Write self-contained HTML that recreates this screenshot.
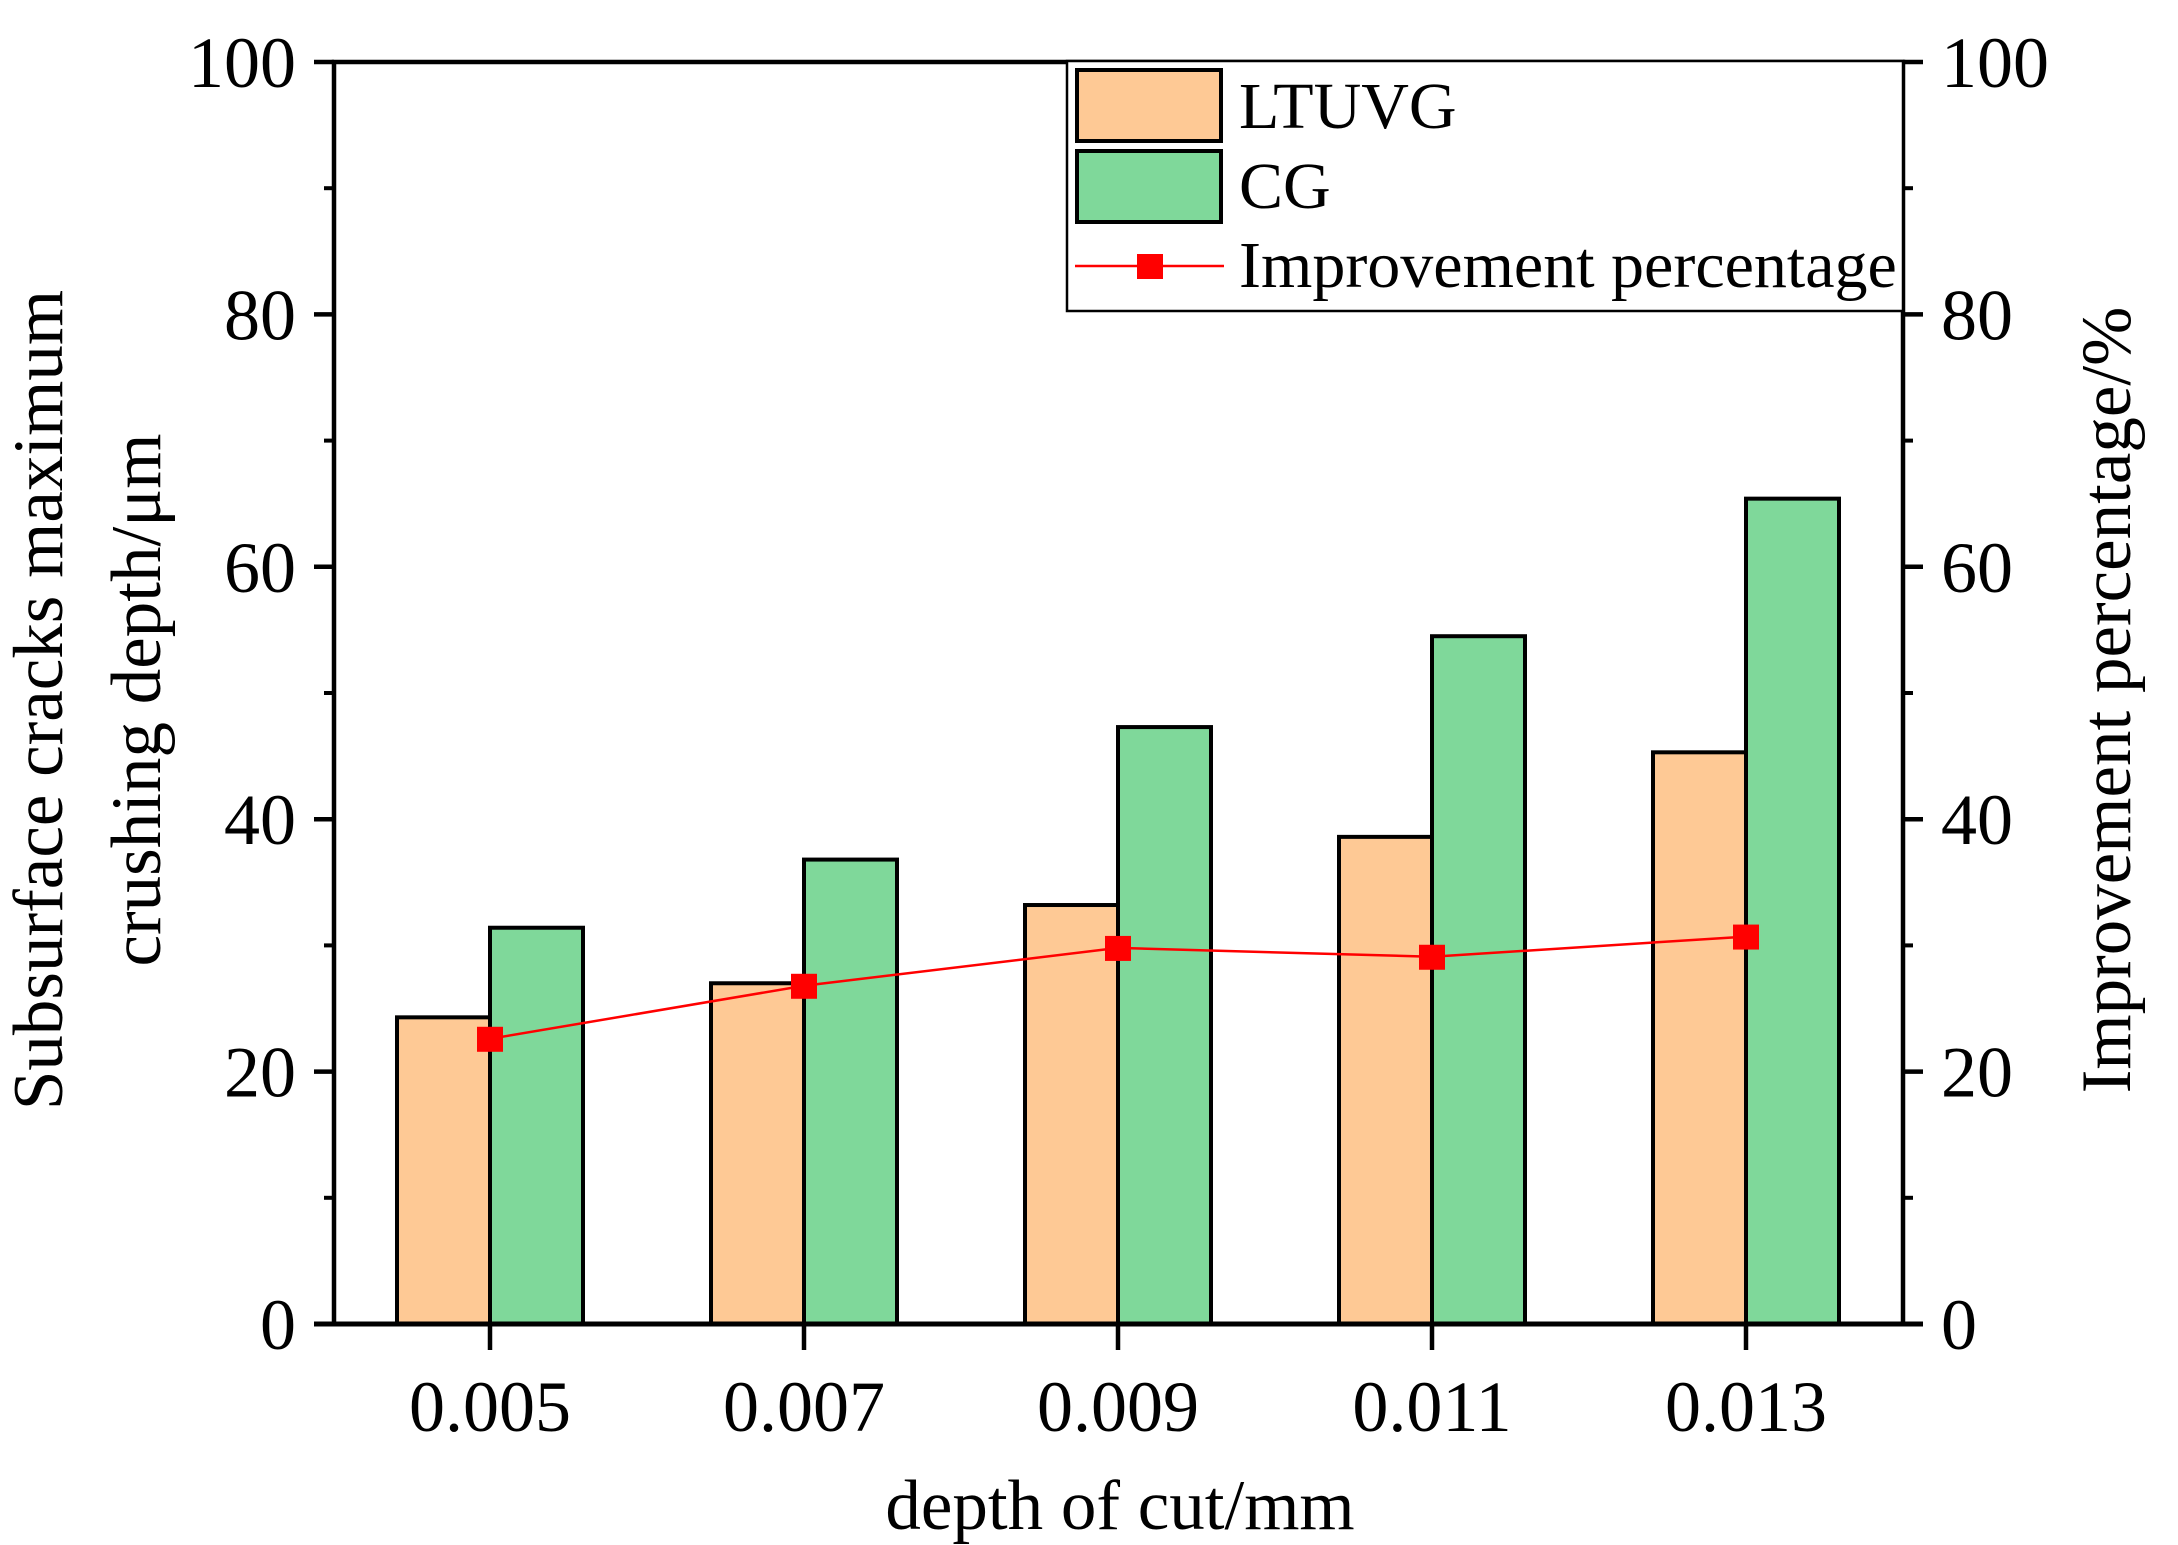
<!DOCTYPE html>
<html><head><meta charset="utf-8"><style>
html,body{margin:0;padding:0;background:#fff;}
svg{display:block;font-family:"Liberation Serif",serif;}
</style></head><body>
<svg id="chart" width="2178" height="1545" viewBox="0 0 2178 1545" xmlns="http://www.w3.org/2000/svg">
<rect width="2178" height="1545" fill="#fff"/>
<g id="bars"></g>
<g id="line"></g>
<g id="axes"></g>
<g id="legend">
<rect x="1067" y="61" width="836" height="250" fill="#fff" stroke="#000" stroke-width="2.5"/>
<rect x="1077" y="70" width="144" height="71" fill="#FEC995" stroke="#000" stroke-width="4"/>
<text x="1239" y="128" font-size="66">LTUVG</text>
<rect x="1077" y="151" width="144" height="71" fill="#7FD89A" stroke="#000" stroke-width="4"/>
<text x="1239" y="208" font-size="66">CG</text>
<line x1="1075" y1="266" x2="1224" y2="266" stroke="#f00" stroke-width="2.5"/>
<rect x="1137" y="254" width="26" height="25" fill="#f00"/>
<text x="1239" y="287" font-size="66">Improvement percentage</text>
</g>
<text x="1120" y="1529" font-size="71" text-anchor="middle">depth of cut/mm</text>
<text transform="translate(62,700) rotate(-90)" font-size="71" text-anchor="middle">Subsurface cracks maximum</text>
<text transform="translate(160,700) rotate(-90)" font-size="71" text-anchor="middle">crushing depth/μm</text>
<text transform="translate(2130,700) rotate(-90)" font-size="71" text-anchor="middle">Improvement percentage/%</text>
</svg>
<script>
const categories = ["0.005","0.007","0.009","0.011","0.013"];
const ltuvgValues = [24.3, 27.0, 33.2, 38.6, 45.3];
const cgValues = [31.4, 36.8, 47.3, 54.5, 65.4];
const improvementValues = [22.6, 26.8, 29.8, 29.1, 30.7];
const yTicks = [0, 20, 40, 60, 80, 100];
const y2Ticks = [0, 20, 40, 60, 80, 100];

const NS = "http://www.w3.org/2000/svg";
const L = 334, R = 1903, T = 62, B = 1324;
const x0 = 490, step = 314, bw = 93;
function xScale(i){ return x0 + i*step; }
function yScale(v){ return B - (v/100)*(B-T); }
function y2Scale(v){ return B - (v/100)*(B-T); }
function mk(tag, attrs, parent){ const e=document.createElementNS(NS,tag); for(const k in attrs) e.setAttribute(k,attrs[k]); parent.appendChild(e); return e; }

const bars = document.getElementById('bars');
categories.forEach((c,i)=>{
  const cx = xScale(i);
  let r = mk('rect',{x:cx-bw, y:yScale(ltuvgValues[i]), width:bw, height:B-yScale(ltuvgValues[i]), fill:'#FEC995', stroke:'#000','stroke-width':4}, bars);
  
  
  r = mk('rect',{x:cx, y:yScale(cgValues[i]), width:bw, height:B-yScale(cgValues[i]), fill:'#7FD89A', stroke:'#000','stroke-width':4}, bars);
  
  
});

const lineG = document.getElementById('line');
const pts = improvementValues.map((v,i)=>xScale(i)+','+y2Scale(v)).join(' ');
const pl = mk('polyline',{points:pts, fill:'none', stroke:'#f00','stroke-width':2.5}, lineG);


improvementValues.forEach((v,i)=>{
  const m = mk('rect',{x:xScale(i)-13, y:y2Scale(v)-12, width:26, height:25, fill:'#f00'}, lineG);
  
  
});

const ax = document.getElementById('axes');
let a = mk('rect',{x:L, y:T, width:R-L, height:B-T, fill:'none', stroke:'#000','stroke-width':4.5}, ax);


a = mk('line',{x1:L-20, y1:B, x2:R+20, y2:B, stroke:'#000','stroke-width':5}, ax);


yTicks.forEach(v=>{
  const y = yScale(v);
  let t = mk('line',{x1:L-20,y1:y,x2:L,y2:y,stroke:'#000','stroke-width':4.5},ax);
  
  
  t = mk('text',{x:L-38,y:y+25,'font-size':72,'text-anchor':'end'},ax);
  t.textContent = v;
  
  
  if (v<100){
    t = mk('line',{x1:L-10,y1:yScale(v+10),x2:L,y2:yScale(v+10),stroke:'#000','stroke-width':4},ax);
    
    
  }
});
y2Ticks.forEach(v=>{
  const y = y2Scale(v);
  let t = mk('line',{x1:R,y1:y,x2:R+20,y2:y,stroke:'#000','stroke-width':4.5},ax);
  
  
  t = mk('text',{x:R+38,y:y+25,'font-size':72,'text-anchor':'start'},ax);
  t.textContent = v;
  
  
  if (v<100){
    t = mk('line',{x1:R,y1:y2Scale(v+10),x2:R+10,y2:y2Scale(v+10),stroke:'#000','stroke-width':4},ax);
    
    
  }
});
categories.forEach((c,i)=>{
  const x = xScale(i);
  let t = mk('line',{x1:x,y1:B,x2:x,y2:B+26,stroke:'#000','stroke-width':4.5},ax);
  
  
  t = mk('text',{x:x,y:1431,'font-size':72,'text-anchor':'middle'},ax);
  t.textContent = c;
  
  
});
</script>
</body></html>
